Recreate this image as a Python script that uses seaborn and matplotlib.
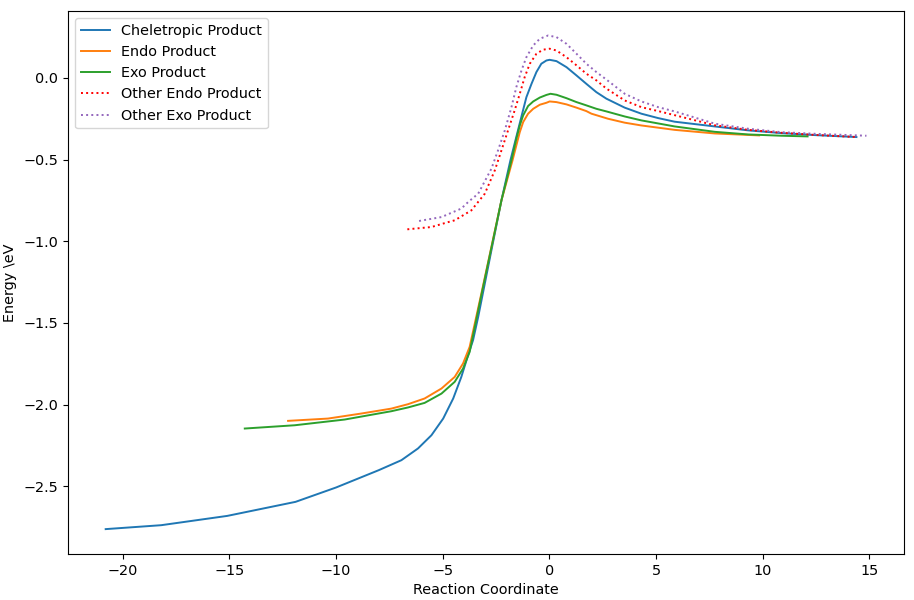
import matplotlib
matplotlib.use("Agg")
import matplotlib.pyplot as plt
import seaborn as sns

# reaction path energies
cheletropic_x = [-20.8, -18.2, -15.1, -11.9, -10.0, -8.0, -6.94, -6.16, -5.53, -4.98, -4.51,
                 -4.13, -3.84, -3.58, -3.34, -2.72, -2.25, -1.83, -1.27, -1.08, -0.84,
                 -0.61, -0.38, -0.14, 0.01, 0.33, 0.80, 1.27, 1.73, 2.20, 2.67, 3.53,
                 4.31, 5.10, 5.87, 7.75, 9.31, 10.88, 12.44, 14.39]
cheletropic_y = [-2.763, -2.739, -2.682, -2.596, -2.508, -2.402, -2.341, -2.269, -2.188,
                 -2.086, -1.963, -1.831, -1.709, -1.606, -1.464, -1.056, -0.75, -0.505,
                 -0.215, -0.118, -0.036, 0.036, 0.087, 0.107, 0.111, 0.103, 0.066, 0.015,
                 -0.036, -0.087, -0.127, -0.182, -0.219, -0.246, -0.268, -0.297, -0.321,
                 -0.338, -0.350, -0.362]

endo_x = [-12.25, -10.38, -8.81, -7.41, -6.63, -5.85, -5.06, -4.44, -4.05, -3.74, -3.19,
          -2.72, -2.25, -1.73, -1.55, -1.39, -1.23, -1.0, -0.76, -0.45, -0.14, 0.01,
          0.33, 0.80, 1.27, 1.73, 1.97, 2.75, 3.53, 4.31, 5.87, 7.75, 9.83]
endo_y = [-2.100, -2.086, -2.055, -2.025, -1.998, -1.963, -1.902, -1.831, -1.749, -1.647,
          -1.32, -1.035, -0.75, -0.505, -0.413, -0.332, -0.270, -0.219, -0.189, -0.164,
          -0.152, -0.144, -0.148, -0.162, -0.182, -0.203, -0.219, -0.25, -0.274, -0.291,
          -0.318, -0.340, -0.352]

exo_x = [-14.28, -11.94, -9.6, -7.41, -6.63, -5.85, -5.06, -4.44, -4.05, -3.74, -3.19,
         -2.72, -2.25, -1.78, -1.55, -1.39, -1.23, -1.0, -0.76, -0.45, -0.14, 0.05, 0.33,
         0.80, 1.27, 1.73, 2.20, 2.67, 3.53, 4.31, 5.87, 7.75, 9.31, 10.88, 12.1]
exo_y = [-2.147, -2.127, -2.092, -2.041, -2.018, -1.990, -1.933, -1.861, -1.780, -1.678,
         -1.33, -1.04, -0.75, -0.505, -0.372, -0.291, -0.229, -0.172, -0.144, -0.120,
         -0.104, -0.097, -0.103, -0.124, -0.148, -0.168, -0.189, -0.205, -0.236, -0.26,
         -0.297, -0.330, -0.346, -0.354, -0.358]

other_endo_x = [-6.66, -5.53, -4.75, -4.44, -3.66, -3.03, -2.56, -2.25, -1.94, -1.63,
                -1.39, -1.16, -0.92, -0.61, -0.30, 0.01, 0.33, 0.80, 1.27, 1.73, 2.20,
                2.67, 3.53, 4.31, 5.10, 5.87, 7.75, 9.31, 10.88, 12.44, 14.39]
other_endo_y = [-0.927, -0.913, -0.883, -0.872, -0.811, -0.709, -0.566, -0.444, -0.321,
                -0.199, -0.097, 0.005, 0.087, 0.148, 0.173, 0.179, 0.168, 0.127, 0.077,
                0.026, -0.015, -0.065, -0.138, -0.179, -0.203, -0.228, -0.290, -0.318,
                -0.336, -0.349, -0.362]

other_exo_x = [-6.11, -5.06, -4.13, -3.81, -3.34, -2.72, -2.41, -2.09, -1.78, -1.55,
               -1.31, -1.08, -0.76, -0.45, -0.06, 0.33, 0.80, 1.27, 1.73, 2.20, 2.67,
               3.53, 4.31, 5.10, 5.87, 7.75, 9.31, 10.88, 12.44, 14.86]
other_exo_y = [-0.876, -0.852, -0.80, -0.76, -0.709, -0.556, -0.444, -0.321, -0.179,
               -0.056, 0.046, 0.127, 0.199, 0.240, 0.260, 0.250, 0.209, 0.148, 0.087,
               0.036, -0.010, -0.097, -0.144, -0.179, -0.205, -0.28, -0.311, -0.332,
               -0.342, -0.354]

plt.rcParams["font.size"] = 10.4
plt.rcParams["lines.linewidth"] = 1.4

fig = plt.figure(figsize=(9.14, 6.0), dpi=100)
ax = fig.add_axes([0.074, 0.077, 0.9156, 0.905])

sns.lineplot(x=cheletropic_x, y=cheletropic_y, ax=ax, color="C0", label="Cheletropic Product")
sns.lineplot(x=endo_x, y=endo_y, ax=ax, color="C1", label="Endo Product")
sns.lineplot(x=exo_x, y=exo_y, ax=ax, color="C2", label="Exo Product")
sns.lineplot(x=other_endo_x, y=other_endo_y, ax=ax, color="red", linestyle=":",
             label="Other Endo Product")
sns.lineplot(x=other_exo_x, y=other_exo_y, ax=ax, color="C4", linestyle=":",
             label="Other Exo Product")

ax.set_xlabel("Reaction Coordinate")
ax.set_ylabel(r"Energy \eV")
ax.legend(loc="upper left")

fig.savefig("out.png", dpi=100)
